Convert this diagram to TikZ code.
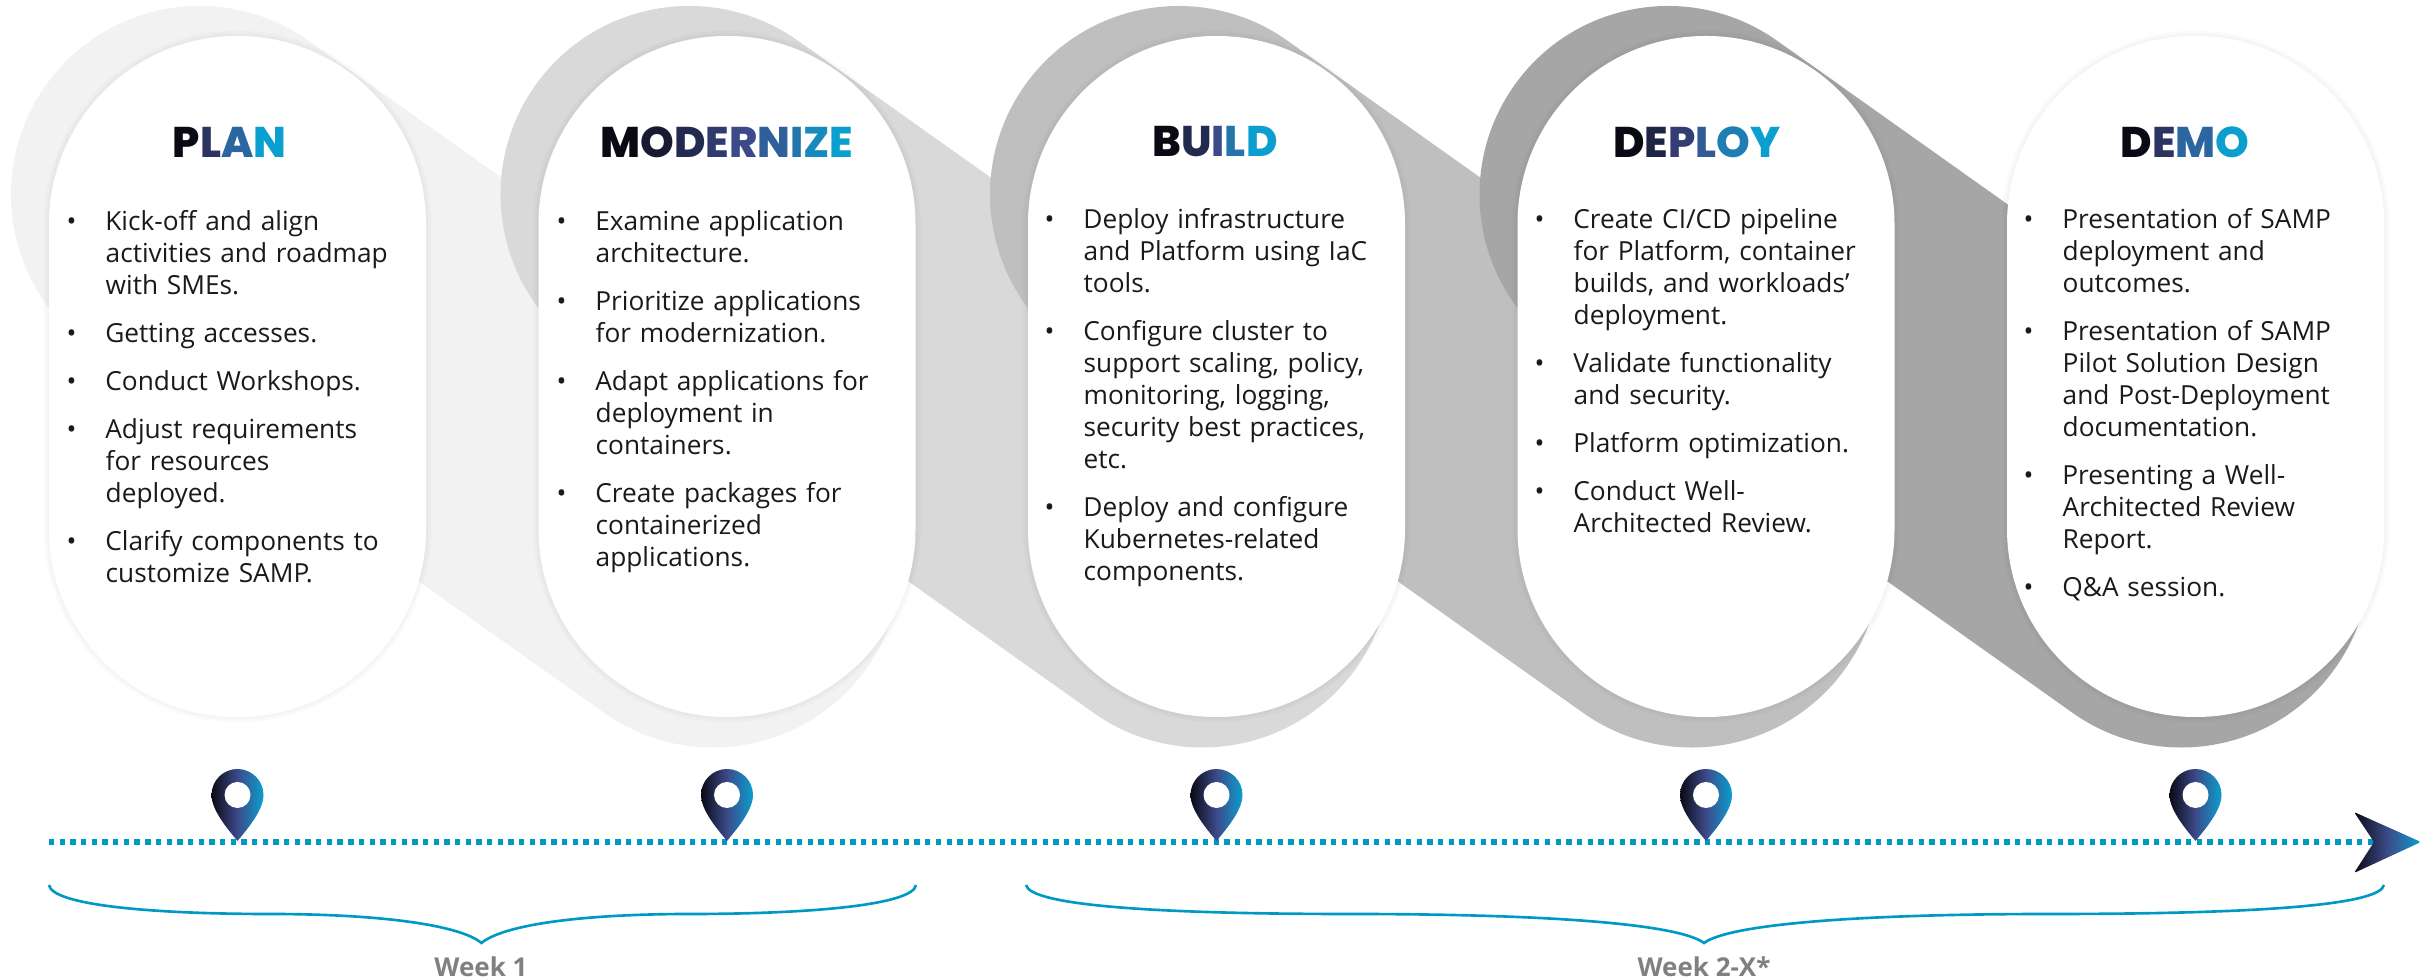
\documentclass[tikz,border=0pt]{standalone}
\usepackage{fontspec}
\usepackage{xcolor}
\setmainfont{Open Sans}
\newfontfamily\titlefont{Poppins}[BoldFont={Poppins ExtraBold}]
\usetikzlibrary{positioning, calc}
\definecolor{gradl}{HTML}{0A0A14}
\definecolor{gradm}{HTML}{3D4A8A}
\definecolor{gradr}{HTML}{0A9FCF}
\definecolor{teal}{HTML}{0099C4}
\definecolor{bodytext}{HTML}{1A1A1A}
\tikzset{
    band/.style={line width=3.77cm, line cap=round},
    pill/.style={rectangle, fill=white, minimum width=3.77cm, minimum height=6.81cm, rounded corners=1.88cm,
        preaction={draw=black, opacity=.02, line width=3pt},
        preaction={draw=black, opacity=.02, line width=1.5pt}},
    pilltext/.style={anchor=north west, inner sep=0pt, text width=3.4cm, text=bodytext, font=\fontsize{7.47}{9.1}\selectfont},
    stagetitle/.style={inner sep=0pt, font=\titlefont\bfseries\fontsize{12.2}{14}\selectfont},
    timeline/.style={draw=teal, line width=1.45pt, dash pattern=on 1.52pt off 1.52pt},
    curly/.style={draw=teal, line width=.75pt},
    weeklabel/.style={inner sep=0pt, text=gray, font=\bfseries\fontsize{7.4}{9}\selectfont},
    gradfill/.style={left color=gradl, right color=gradr, middle color=gradm},
    locpin/.pic={
        \shade[gradfill]
            (0,0) .. controls (-.08,.1) and (-.26,.3) .. (-.26,.46) arc (180:0:.26)
            .. controls (.26,.3) and (.08,.1) .. (0,0) -- cycle;
        \fill[white] (0,.46) circle (.13);
    }
}
\newenvironment{pilllist}{\begin{list}{\textbullet}{\setlength{\leftmargin}{9.67pt}\setlength{\labelwidth}{0pt}\setlength{\labelsep}{8.2pt}%
    \setlength{\itemindent}{-2.9pt}\setlength{\itemsep}{4.55pt}\setlength{\parsep}{0pt}\setlength{\topsep}{0pt}\setlength{\partopsep}{0pt}\setlength{\parskip}{0pt}}}{\end{list}}
\newcommand{\gradtitle}[2]{%
    \foreach \letter [count=\idx] in {#2}{%
        \pgfmathsetmacro{\posv}{100*(\idx-1)/(#1-1)}%
        \ifdim\posv pt<50pt
            \pgfmathsetmacro{\mixv}{int(2*\posv)}\textcolor{gradm!\mixv!gradl}{\letter}%
        \else
            \pgfmathsetmacro{\mixv}{int(2*\posv-100)}\textcolor{gradr!\mixv!gradm}{\letter}%
        \fi}}
\begin{document}
\begin{tikzpicture}
    \useasboundingbox (0,0) rectangle (24.22,9.79);
    \foreach \x [count=\i] in {2.375,7.27,12.165,17.06,21.955} \coordinate (c\i) at (\x,6.025);
    % bands behind the pills
    \foreach \i/\j/\col in {1/2/F2F2F2,2/3/D9D9D9,3/4/BFBFBF,4/5/A6A6A6} {
        \definecolor{bandcol}{HTML}{\col}
        \draw[band, draw=bandcol] ($(c\i)+(-.38,1.82)$) -- ($(c\j)+(-.14,-1.825)$);
    }
    \node[pill] (plan) at (c1) {};
    \node[pill] (modernize) at (c2) {};
    \node[pill] (build) at (c3) {};
    \node[pill] (deploy) at (c4) {};
    \node[pill] (demo) at (c5) {};

    \node[stagetitle] (plantitle) at (2.295,8.37) {\gradtitle{4}{P,L,A,N}};
    \node[stagetitle] (modernizetitle) at (7.27,8.37) {\gradtitle{9}{M,O,D,E,R,N,I,Z,E}};
    \node[stagetitle] (buildtitle) at (12.15,8.37) {\gradtitle{5}{B,U,I,L,D}};
    \node[stagetitle] (deploytitle) at (16.97,8.37) {\gradtitle{6}{D,E,P,L,O,Y}};
    \node[stagetitle] (demotitle) at (21.85,8.37) {\gradtitle{4}{D,E,M,O}};

    \node[pilltext] (plantext) at (0.71,7.81) {\begin{pilllist}
        \item Kick-off and align\\activities and roadmap\\with SMEs.
        \item Getting accesses.
        \item Conduct Workshops.
        \item Adjust requirements\\for resources\\deployed.
        \item Clarify components to\\customize SAMP.
    \end{pilllist}};
    \node[pilltext] (moderntext) at (5.61,7.81) {\begin{pilllist}
        \item Examine application\\architecture.
        \item Prioritize applications\\for modernization.
        \item Adapt applications for\\deployment in\\containers.
        \item Create packages for\\containerized\\applications.
    \end{pilllist}};
    \node[pilltext] (buildtext) at (10.49,7.83) {\begin{pilllist}
        \item Deploy infrastructure\\and Platform using IaC\\tools.
        \item Configure cluster to\\support scaling, policy,\\monitoring, logging,\\security best practices,\\etc.
        \item Deploy and configure\\Kubernetes-related\\components.
    \end{pilllist}};
    \node[pilltext] (deploytext) at (15.39,7.83) {\begin{pilllist}
        \item Create CI/CD pipeline\\for Platform, container\\builds, and workloads'\\deployment.
        \item Validate functionality\\and security.
        \item Platform optimization.
        \item Conduct Well-\\Architected Review.
    \end{pilllist}};
    \node[pilltext] (demotext) at (20.28,7.83) {\begin{pilllist}
        \item Presentation of SAMP\\deployment and\\outcomes.
        \item Presentation of SAMP\\Pilot Solution Design\\and Post-Deployment\\documentation.
        \item Presenting a Well-\\Architected Review\\Report.
        \item Q\&A session.
    \end{pilllist}};

    % timeline
    \coordinate (tlstart) at (0.49,1.37);
    \coordinate (tlend) at (23.74,1.37);
    \draw[timeline] (tlstart) -- (tlend);
    \foreach \i in {1,...,5} \pic (pin\i) at ($(c\i |- tlstart)+(0,.01)$) {locpin};
    \shade[gradfill, rounded corners=.5pt]
        (24.21,1.37) -- (23.54,1.67) -- (tlend) -- (23.54,1.06) -- cycle;

    % braces
    \draw[curly] (0.49,0.94) .. controls (0.52,0.74) and (1.5,0.65) .. (2.7,0.65)
        .. controls (3.8,0.65) and (4.6,0.54) .. (4.815,0.36)
        .. controls (5.03,0.54) and (5.8,0.65) .. (6.9,0.65)
        .. controls (8.1,0.65) and (9.13,0.74) .. (9.16,0.94);
    \draw[curly] (10.26,0.94) .. controls (10.3,0.74) and (11.5,0.65) .. (13.5,0.65)
        .. controls (15.6,0.65) and (16.8,0.54) .. (17.04,0.36)
        .. controls (17.28,0.54) and (18.5,0.65) .. (20.5,0.65)
        .. controls (22.6,0.65) and (23.8,0.74) .. (23.84,0.94);
    \node[weeklabel] (week1) at (4.81,0.12) {Week 1};
    \node[weeklabel] (week2) at (17.04,0.12) {Week 2-X*};
\end{tikzpicture}
\end{document}
